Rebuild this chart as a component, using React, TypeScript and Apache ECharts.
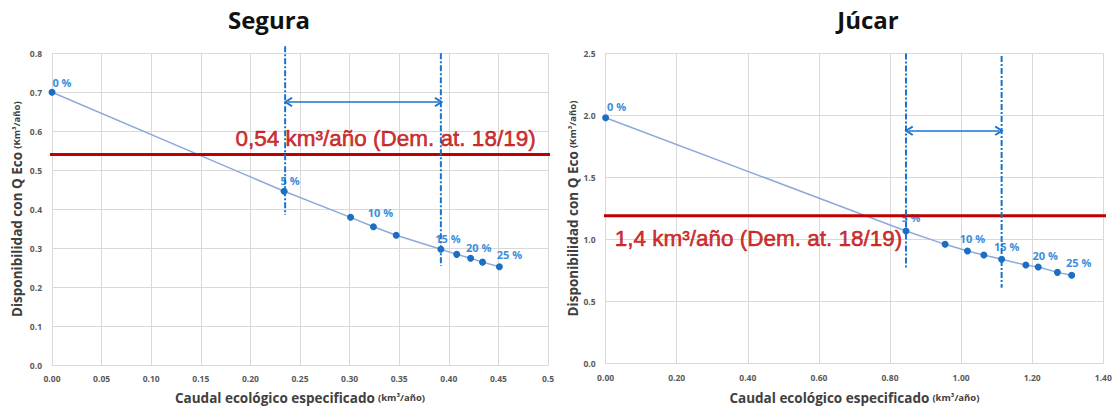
import React, { useEffect, useRef } from "react";
import * as echarts from "echarts";

// ---------- data ----------
const seguraTitle = "Segura";
const jucarTitle = "Júcar";

const seguraX = [0, 0.234, 0.301, 0.324, 0.347, 0.392, 0.408, 0.422, 0.434, 0.451];
const seguraY = [0.7, 0.446, 0.379, 0.355, 0.333, 0.297, 0.284, 0.274, 0.264, 0.252];
const seguraPctLabels = ["0 %", "5 %", "", "10 %", "", "15 %", "", "20 %", "", "25 %"];
const seguraPctOffsets = [[10, -10], [6, -11], [0, 0], [7, -14], [0, 0], [7, -11], [0, 0], [8, -11], [0, 0], [10, -12]];

const jucarX = [0, 0.845, 0.955, 1.018, 1.064, 1.114, 1.182, 1.217, 1.271, 1.311];
const jucarY = [1.982, 1.069, 0.961, 0.907, 0.875, 0.84, 0.794, 0.778, 0.735, 0.711];
const jucarPctLabels = ["0 %", "5 %", "", "10 %", "", "15 %", "", "20 %", "", "25 %"];
const jucarPctOffsets = [[11, -11], [5, -13], [0, 0], [5, -13], [0, 0], [5, -13], [0, 0], [7, -12], [0, 0], [7, -13]];

// demand reference (red line) value, its extent and caption
const seguraDemand = 0.54;
const seguraDemandSpan = [-0.016, 0.504];
const seguraDemandText = "0,54 km³/año (Dem. at. 18/19)";
const seguraDemandTextAt = [0.1845, 0.582];

const jucarDemand = 1.192;
const jucarDemandSpan = [-0.061, 1.427];
const jucarDemandText = "1,4 km³/año (Dem. at. 18/19)";
const jucarDemandTextAt = [0.024, 1.012];

// vertical dash-dot markers: [x, yTop, yBottom]
const seguraMarkers = [[0.235, 0.818, 0.385], [0.392, 0.8, 0.254]];
const jucarMarkers = [[0.845, 2.5, 0.762], [1.114, 2.48, 0.611]];

// double arrows: [x1, x2, y]
const seguraArrow = [0.238, 0.39, 0.675];
const jucarArrow = [0.853, 1.107, 1.877];

// axes
const seguraXAxis = { min: 0, max: 0.5, interval: 0.05 };
const seguraYAxis = { min: 0, max: 0.8, interval: 0.1 };
const jucarXAxis = { min: 0, max: 1.4, interval: 0.2 };
const jucarYAxis = { min: 0, max: 2.5, interval: 0.5 };

const xAxisTitle = "{a|Caudal ecológico especificado} {b|(km³/año)}";
const yAxisTitle = "{a|Disponibilidad con Q Eco} {b|(Km³/año)}";

// ---------- styles ----------
const FONT = "'Open Sans', 'Noto Sans', sans-serif";
const GRID_COLOR = "#d9d9d9";
const TICK_COLOR = "#595959";
const LINE_COLOR = "#8eaadb";
const MARKER_COLOR = "#1b6ec2";
const PCT_COLOR = "#3a8edb";
const RED = "#c00000";
const REF_BLUE = "#1a73cf";
const CHEVRON = "path://M5,0 L10,8 L8.6,9.2 L5,3.6 L1.4,9.2 L0,8 Z";

function axisTitleRich() {
  return {
    color: "#404040",
    fontFamily: FONT,
    rich: {
      a: { fontSize: 13.5, fontWeight: "bold", color: "#404040", fontFamily: FONT },
      b: { fontSize: 9.5, fontWeight: "bold", color: "#404040", fontFamily: FONT, padding: [0, 0, 1, 0] },
    },
  };
}

function makeXAxis(gridIndex: number, ax: any, fmt: (v: number) => string, gap: number) {
  return {
    type: "value",
    gridIndex,
    min: ax.min,
    max: ax.max,
    interval: ax.interval,
    name: xAxisTitle,
    nameLocation: "middle",
    nameGap: gap,
    nameTextStyle: axisTitleRich(),
    axisLine: { show: true, lineStyle: { color: GRID_COLOR, width: 1 } },
    axisTick: { show: false },
    axisLabel: { color: TICK_COLOR, fontSize: 8.5, fontWeight: "bold", fontFamily: FONT, margin: 9, formatter: fmt },
    splitLine: { show: true, lineStyle: { color: GRID_COLOR, width: 1 } },
  };
}

function makeYAxis(gridIndex: number, ax: any, gap: number) {
  return {
    type: "value",
    gridIndex,
    min: ax.min,
    max: ax.max,
    interval: ax.interval,
    name: yAxisTitle,
    nameLocation: "middle",
    nameGap: gap,
    nameTextStyle: axisTitleRich(),
    axisLine: { show: true, lineStyle: { color: GRID_COLOR, width: 1 } },
    axisTick: { show: false },
    axisLabel: { color: TICK_COLOR, fontSize: 8.5, fontWeight: "bold", fontFamily: FONT, margin: 10, formatter: (v: number) => v.toFixed(1) },
    splitLine: { show: true, lineStyle: { color: GRID_COLOR, width: 1 } },
  };
}

function panelSeries(
  idx: number,
  xs: number[],
  ys: number[],
  labels: string[],
  offsets: number[][],
  demand: number,
  span: number[],
  text: string,
  textAt: number[],
  markers: number[][],
  arrow: number[]
) {
  const axes = { xAxisIndex: idx, yAxisIndex: idx };
  const series: any[] = [];
  series.push({
    type: "line",
    ...axes,
    z: 2,
    symbol: "circle",
    symbolSize: 7,
    itemStyle: { color: MARKER_COLOR },
    lineStyle: { color: LINE_COLOR, width: 1.5 },
    data: xs.map((x, i) => ({
      value: [x, ys[i]],
      label: labels[i]
        ? {
            show: true,
            formatter: labels[i],
            position: "inside",
            offset: offsets[i],
            color: PCT_COLOR,
            fontSize: 11,
            fontWeight: "bold",
            fontFamily: FONT,
          }
        : { show: false },
    })),
  });
  series.push({
    type: "line",
    ...axes,
    z: 3,
    clip: false,
    symbol: "none",
    silent: true,
    lineStyle: { color: RED, width: 3 },
    data: [[span[0], demand], [span[1], demand]],
  });
  markers.forEach((m) => {
    series.push({
      type: "line",
      ...axes,
      z: 4,
      clip: false,
      symbol: "none",
      silent: true,
      lineStyle: { color: REF_BLUE, width: 2, type: [6, 2, 2, 2] },
      data: [[m[0], m[1]], [m[0], m[2]]],
    });
  });
  series.push({
    type: "line",
    ...axes,
    z: 4,
    data: [],
    markLine: {
      silent: true,
      symbol: [CHEVRON, CHEVRON],
      symbolSize: [10, 9],
      label: { show: false },
      lineStyle: { color: REF_BLUE, width: 1.5, type: "solid" },
      data: [[{ coord: [arrow[0], arrow[2]] }, { coord: [arrow[1], arrow[2]] }]],
    },
  });
  series.push({
    type: "scatter",
    ...axes,
    z: 5,
    symbolSize: 1,
    silent: true,
    itemStyle: { color: "rgba(0,0,0,0)" },
    label: {
      show: true,
      position: "right",
      distance: 0,
      formatter: text,
      color: RED,
      fontSize: 22.5,
      textBorderColor: RED,
      textBorderWidth: 0.6,
      fontFamily: "'Liberation Sans', Arial, sans-serif",
    },
    data: [textAt],
  });
  return series;
}

export default function App() {
  const ref = useRef<HTMLDivElement>(null);
  useEffect(() => {
    if (!ref.current) return;
    const chart = echarts.init(ref.current, undefined, { renderer: "svg" });
    const fmtSegura = (v: number) => (Math.abs(v - 0.5) < 1e-9 ? "0.5" : v.toFixed(2));
    const fmtJucar = (v: number) => v.toFixed(2);
    chart.setOption({
      animation: false,
      backgroundColor: "#ffffff",
      textStyle: { fontFamily: FONT },
      grid: [
        { left: 52, top: 53.3, width: 496, height: 311.7, containLabel: false },
        { left: 605.6, top: 53.5, width: 497.7, height: 310, containLabel: false },
      ],
      xAxis: [makeXAxis(0, seguraXAxis, fmtSegura, 26), makeXAxis(1, jucarXAxis, fmtJucar, 27)],
      yAxis: [makeYAxis(0, seguraYAxis, 28), makeYAxis(1, jucarYAxis, 26)],
      graphic: [
        {
          type: "text",
          x: 269,
          y: 19,
          style: { text: seguraTitle, fill: "#111", font: `bold 24px ${FONT}`, textAlign: "center", textVerticalAlign: "middle" },
        },
        {
          type: "text",
          x: 868,
          y: 19,
          style: { text: jucarTitle, fill: "#111", font: `bold 24px ${FONT}`, textAlign: "center", textVerticalAlign: "middle" },
        },
      ],
      series: [
        ...panelSeries(0, seguraX, seguraY, seguraPctLabels, seguraPctOffsets, seguraDemand, seguraDemandSpan, seguraDemandText, seguraDemandTextAt, seguraMarkers, seguraArrow),
        ...panelSeries(1, jucarX, jucarY, jucarPctLabels, jucarPctOffsets, jucarDemand, jucarDemandSpan, jucarDemandText, jucarDemandTextAt, jucarMarkers, jucarArrow),
      ],
    });
    return () => chart.dispose();
  }, []);
  return (
    <div
      ref={ref}
      style={{ position: "fixed", left: 0, top: 0, width: 1117, height: 410, background: "#fff" }}
    />
  );
}
